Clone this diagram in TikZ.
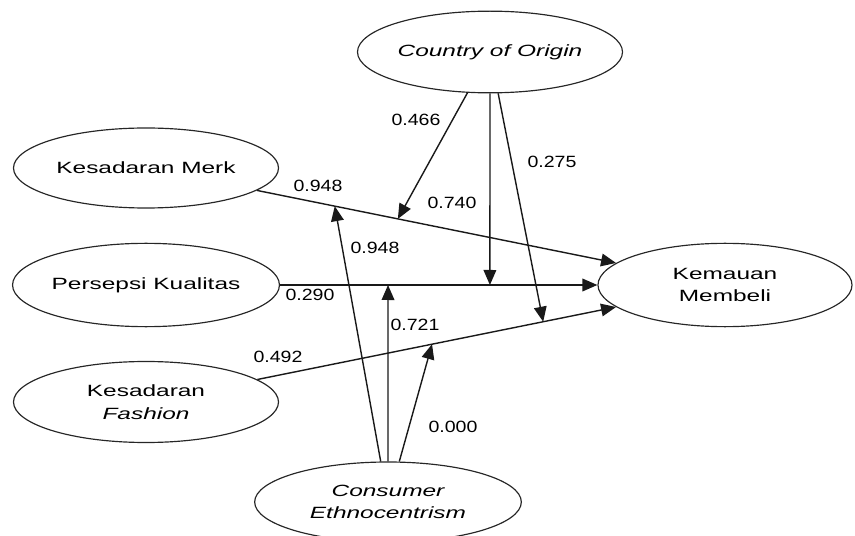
\documentclass[tikz,border=0pt]{standalone}
\usepackage{fontspec}
\usepackage{tikz}
\usetikzlibrary{arrows.meta,shapes.geometric,calc}
\newfontfamily\varfont[FakeStretch=1.5]{Liberation Sans}
\newfontfamily\numfont[FakeStretch=1.2]{Liberation Sans}
\tikzset{
    %Define style for the latent variables
    varellipse/.style={
           ellipse,
           draw=black!85, line width=1pt,
           inner sep=0pt,
           minimum width=7.95cm,
           minimum height=2.45cm,
           align=center,
           font=\varfont\fontsize{13.9}{19.4}\selectfont},
    %Define style for the path coefficients
    pathcoef/.style={
           inner sep=1pt,
           font=\numfont\fontsize{13.9}{16}\selectfont},
    patharrow/.style={
           -{Triangle[length=0.45cm,width=0.38cm]},
           draw=black!90,
           line width=1.2pt}
}
\def\pxsize{0.03cm}

\begin{document}
\begin{tikzpicture}[x=\pxsize, y=-\pxsize]
\useasboundingbox (0,0) rectangle (855,536);
\node[varellipse] (CoO) at (490,52) {\itshape Country of Origin};
\node[varellipse, minimum height=2.4cm] (KM) at (146,168) {Kesadaran Merk};
\node[varellipse, minimum height=2.5cm] (PK) at (146,285) {Persepsi Kualitas};
\node[varellipse, minimum height=2.43cm] (KF) at (146,402) {Kesadaran\\\itshape Fashion};
\node[varellipse, minimum width=7.62cm, minimum height=2.5cm] (KMB) at (725,285) {Kemauan\\Membeli};
\node[varellipse, minimum width=8cm, minimum height=2.4cm] (CE) at (388,502) {\itshape Consumer\\\itshape Ethnocentrism};
%direct paths
\draw[patharrow] (KM) -- (KMB);
\draw[patharrow] (PK) -- (KMB);
\draw[patharrow] (KF) -- (KMB);
%moderating points on the direct paths
\coordinate (cooKM) at ($(KM)!0.435!(KMB)$);
\coordinate (cooPK) at ($(PK)!0.594!(KMB)$);
\coordinate (cooKF) at ($(KF)!0.686!(KMB)$);
\coordinate (ceKM) at ($(KM)!0.326!(KMB)$);
\coordinate (cePK) at ($(PK)!0.418!(KMB)$);
\coordinate (ceKF) at ($(KF)!0.494!(KMB)$);
\draw[patharrow] (CoO) -- (cooKM);
\draw[patharrow] (CoO) -- (cooPK);
\draw[patharrow] (CoO) -- (cooKF);
\draw[patharrow] (CE) -- (ceKM);
\draw[patharrow] (CE) -- (cePK);
\draw[patharrow] (CE) -- (ceKF);
%coefficients
\node[pathcoef] (c466) at (416,120) {0.466};
\node[pathcoef] (c275) at (552,162) {0.275};
\node[pathcoef] (c948a) at (318,186) {0.948};
\node[pathcoef] (c740) at (452,203) {0.740};
\node[pathcoef] (c948b) at (375,248) {0.948};
\node[pathcoef] (c290) at (310,295) {0.290};
\node[pathcoef] (c721) at (415,325) {0.721};
\node[pathcoef] (c492) at (278,357) {0.492};
\node[pathcoef] (c000) at (453,427) {0.000};
\end{tikzpicture}
\end{document}
